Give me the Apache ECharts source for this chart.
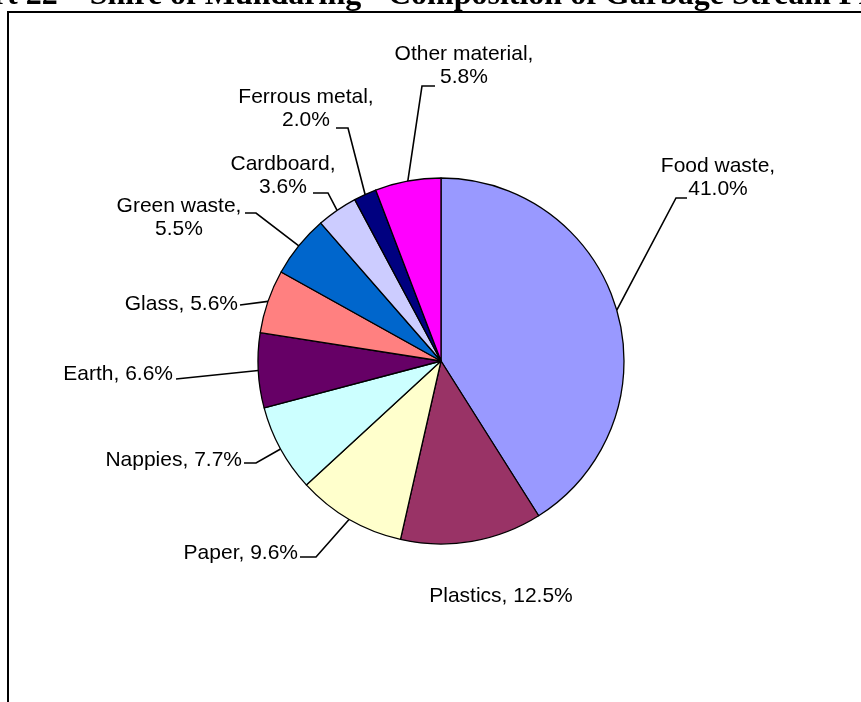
<!DOCTYPE html>
<html>
<head>
<meta charset="utf-8">
<script src="https://cdn.jsdelivr.net/npm/echarts@6/dist/echarts.min.js"></script>
<style>
  html, body { margin: 0; padding: 0; background: #fff; }
  #chart { width: 861px; height: 702px; }
</style>
</head>
<body>
<div id="chart"></div>
<script>
// ---- data ----
const categories = ['Food waste', 'Plastics', 'Paper', 'Nappies', 'Earth', 'Glass',
                    'Green waste', 'Cardboard', 'Ferrous metal', 'Other material'];
const shares = [41.0, 12.5, 9.6, 7.7, 6.6, 5.6, 5.5, 3.6, 2.0, 5.8];
const sliceColors = ['#9999FF', '#993366', '#FFFFCC', '#CCFFFF', '#660066', '#FF8080',
                     '#0066CC', '#CCCCFF', '#000080', '#FF00FF'];
const titleText = 'Chart 22 \u2013 Shire of Mundaring - Composition of Garbage Stream Profile';

// ---- label layout (annotation placement only) ----
const twoLineLabels = [true, false, false, false, false, false, true, true, true, true];
const labelSpots = [
  { x: 718, y: 178, align: 'center', line: [[676, 198], [687, 198]] },
  { x: 501, y: 596, align: 'center', line: null },
  { x: 298, y: 553, align: 'right',  line: [[316, 557], [300, 557]] },
  { x: 242, y: 460, align: 'right',  line: [[256, 463], [244, 463]] },
  { x: 173, y: 374, align: 'right',  line: [[176, 379], [176, 379]] },
  { x: 238, y: 304, align: 'right',  line: [[240, 305], [240, 305]] },
  { x: 179, y: 218, align: 'center', line: [[256, 213], [245, 213]] },
  { x: 283, y: 176, align: 'center', line: [[328, 193], [313, 193]] },
  { x: 306, y: 109, align: 'center', line: [[348, 128], [336, 128]] },
  { x: 464, y: 66,  align: 'center', line: [[422, 86], [435, 86]] }
];

const pieData = categories.map((name, i) => ({
  name: name,
  value: shares[i],
  itemStyle: { color: sliceColors[i] },
  labelLine: { show: labelSpots[i].line !== null }
}));

const chart = echarts.init(document.getElementById('chart'), null, { renderer: 'canvas' });
chart.setOption({
  backgroundColor: '#ffffff',
  animation: false,
  graphic: [
    {
      type: 'rect',
      shape: { x: 8, y: 12, width: 940, height: 800 },
      style: { fill: 'none', stroke: '#000', lineWidth: 2 },
      silent: true
    },
    {
      type: 'text',
      x: -64,
      y: -4,
      style: {
        text: titleText,
        font: 'bold 32px "Liberation Serif", "Times New Roman", serif',
        fill: '#000',
        align: 'left',
        verticalAlign: 'middle'
      },
      silent: true
    }
  ],
  series: [{
    type: 'pie',
    center: [441, 361],
    radius: 183,
    startAngle: 90,
    clockwise: true,
    avoidLabelOverlap: false,
    itemStyle: { borderColor: '#000', borderWidth: 1.3 },
    label: {
      show: true,
      position: 'outside',
      color: '#000',
      fontFamily: '"Liberation Sans", Arial, sans-serif',
      fontSize: 21,
      lineHeight: 23,
      overflow: 'none',
      formatter: function (p) {
        return p.name + ',' + (twoLineLabels[p.dataIndex] ? '\n' : ' ') + p.value.toFixed(1) + '%';
      }
    },
    labelLine: {
      show: true,
      length: 15,
      length2: 10,
      lineStyle: { color: '#000', width: 1.6 }
    },
    labelLayout: function (params) {
      const spot = labelSpots[params.dataIndex];
      const out = { x: spot.x, y: spot.y, align: spot.align, verticalAlign: 'middle' };
      if (spot.line && params.labelLinePoints) {
        out.labelLinePoints = [params.labelLinePoints[0]].concat(spot.line);
      }
      return out;
    },
    emphasis: { disabled: true },
    data: pieData
  }]
});
</script>
</body>
</html>
